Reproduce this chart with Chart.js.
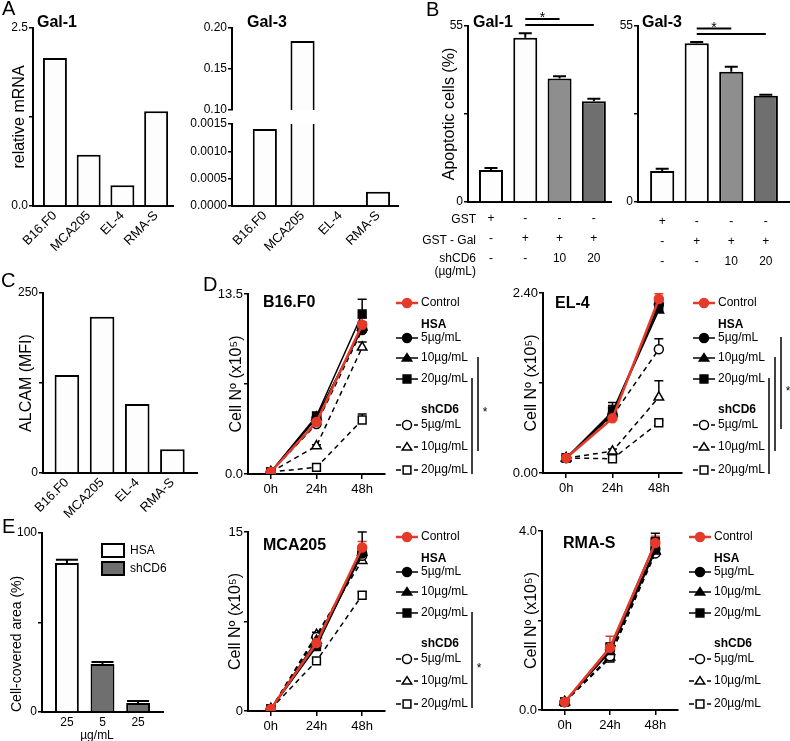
<!DOCTYPE html>
<html>
<head>
<meta charset="utf-8">
<script src="https://cdn.jsdelivr.net/npm/chart.js@4/dist/chart.umd.min.js"></script>
<style>
  body { margin: 0; background: #fff; }
  #fig { position: relative; width: 790px; height: 741px; overflow: hidden;
         font-family: 'Liberation Sans', Arial, sans-serif; color: #000; }
  #fig canvas { position: absolute; }
  .t { position: absolute; white-space: nowrap; line-height: 1; }
</style>
</head>
<body>
<div id="fig"></div>
<script>
// ---------- data ----------
// A: galectin mRNA
const CELL_LINES = ['B16.F0', 'MCA205', 'EL-4', 'RMA-S'];
const GAL1_MRNA = [2.08, 0.72, 0.29, 1.33];
const GAL3_MRNA = [0.00141, 0.184, 0.00001, 0.00026];
const GAL1_TICKS = [0, 1.25, 2.5];
const GAL3_BREAK = 0.10;
const GAL3_TICKS_HIGH = [0.10, 0.15, 0.20];
const GAL3_TICKS_LOW = [0, 0.0005, 0.0010, 0.0015];

// B: apoptosis
const GST = ['+', '-', '-', '-'];
const GST_GAL = ['-', '+', '+', '+'];
const SHCD6_DOSE = ['-', '-', '10', '20'];
const APOP_GAL1 = [10.0, 51.3, 38.6, 31.5];
const APOP_GAL1_ERR = [0.6, 1.4, 0.7, 0.8];
const APOP_GAL3 = [9.7, 49.6, 40.7, 33.2];
const APOP_GAL3_ERR = [0.7, 0.4, 1.6, 0.3];
const APOP_TICKS = [0, 27.5, 55];
const GAL1_SIG = [[1, 2, 57.2, '*'], [1, 3, 55.3, '']];
const GAL3_SIG = [[1, 2, 54.2, '*'], [1, 3, 52.5, '']];

// C: ALCAM
const ALCAM_MFI = [136, 217, 96, 33];
const ALCAM_TICKS = [0, 125, 250];

// D: proliferation (rows follow SERIES)
const TIMES = ['0h', '24h', '48h'];
const SERIES = ['Control', '5µg/mL', '10µg/mL', '20µg/mL', '5µg/mL', '10µg/mL', '20µg/mL'];
const SERIES_GROUP = ['Control', 'HSA', 'HSA', 'HSA', 'shCD6', 'shCD6', 'shCD6'];

const B16_CELLS = [[0.15, 3.9, 11.2], [0.15, 4.2, 10.9], [0.15, 4.25, 11.0], [0.15, 4.35, 12.0],
                   [0.15, 3.75, 10.8], [0.15, 2.1, 9.5], [0.15, 0.5, 4.05]];
const B16_ERR = [[0, 0.15, 0.5], [0, 0.1, 0.4], [0, 0.1, 0.4], [0, 0.15, 1.1],
                 [0, 0.1, 0.4], [0, 0.1, 0.4], [0, 0.1, 0.45]];
const B16_TICKS = [0, 6.75, 13.5];

const EL4_CELLS = [[0.2, 0.73, 2.32], [0.2, 0.78, 2.25], [0.2, 0.80, 2.17], [0.2, 0.82, 2.21],
                   [0.2, 0.76, 1.65], [0.2, 0.29, 1.01], [0.2, 0.19, 0.67]];
const EL4_ERR = [[0, 0.13, 0.07], [0, 0.1, 0.05], [0, 0.1, 0.05], [0, 0.12, 0.05],
                 [0, 0.05, 0.14], [0, 0.03, 0.22], [0, 0.02, 0.03]];
const EL4_TICKS = [0, 1.2, 2.4];

const MCA_CELLS = [[0.17, 5.7, 13.7], [0.17, 5.5, 13.2], [0.17, 5.9, 13.3], [0.17, 5.4, 13.4],
                   [0.17, 6.2, 13.0], [0.17, 6.4, 12.6], [0.17, 4.2, 9.7]];
const MCA_ERR = [[0, 0.2, 0.5], [0, 0.2, 0.5], [0, 0.2, 0.5], [0, 0.2, 1.6],
                 [0, 0.2, 0.4], [0, 0.2, 0.4], [0, 0.15, 0.3]];
const MCA_TICKS = [0, 7.5, 15];

const RMA_CELLS = [[0.18, 1.39, 3.73], [0.18, 1.35, 3.6], [0.18, 1.3, 3.55], [0.18, 1.4, 3.75],
                   [0.18, 1.2, 3.5], [0.18, 1.18, 3.55], [0.18, 1.16, 3.75]];
const RMA_ERR = [[0, 0.26, 0.15], [0, 0.1, 0.1], [0, 0.1, 0.1], [0, 0.1, 0.2],
                 [0, 0.05, 0.1], [0, 0.05, 0.1], [0, 0.05, 0.1]];
const RMA_TICKS = [0, 2, 4];

// significance brackets in the legend: [from row, to row]
const B16_SIG = [[3, 6], [2, 5]];
const EL4_SIG = [[3, 6], [2, 5], [1, 4]];
const MCA_SIG = [[3, 6]];

// E: cell-covered area
const AREA_DOSE = ['25', '5', '25'];
const AREA_GROUP = ['HSA', 'shCD6', 'shCD6'];
const AREA_VALUES = [83.2, 26.8, 5.0];
const AREA_ERR = [1.8, 1.2, 1.1];
const AREA_TICKS = [0, 50, 100];

// ---------- styles ----------
const FONT = "'Liberation Sans', Arial, sans-serif";
const RED = '#e53a2a';
const WHITE_BAR = '#fdfdfd';
const GROUP_FILL = { HSA: WHITE_BAR, shCD6: '#6f6f6f' };
const APOP_FILL = [WHITE_BAR, WHITE_BAR, '#8e8e8e', '#6f6f6f'];
const SERIES_STYLE = [
  { color: RED, fill: RED, shape: 'circle', r: 4.5, dash: [], width: 2.5 },
  { color: '#000', fill: '#000', shape: 'circle', r: 4.5, dash: [], width: 1.5 },
  { color: '#000', fill: '#000', shape: 'triangle', r: 5.5, dash: [], width: 1.5 },
  { color: '#000', fill: '#000', shape: 'rect', r: 5.5, dash: [], width: 1.5 },
  { color: '#000', fill: '#fff', shape: 'circle', r: 4.5, dash: [5, 4], width: 1.5 },
  { color: '#000', fill: '#fff', shape: 'triangle', r: 5.5, dash: [5, 4], width: 1.5 },
  { color: '#000', fill: '#fff', shape: 'rect', r: 5.5, dash: [5, 4], width: 1.5 }
];
const LEGEND_ROW_Y = [0, 35, 55, 76, 122, 144, 167];
const LEGEND_HEADERS = [['HSA', 22], ['shCD6', 107]];

Chart.defaults.font.family = FONT;
Chart.defaults.color = '#000';

const fig = document.getElementById('fig');

// ---------- helpers ----------
function mount(g) {
  const c = document.createElement('canvas');
  const left = g.L - g.yw, top = g.T - g.pt;
  const w = g.R - g.L + g.yw + g.pr, h = g.B - g.T + g.pt + g.xh;
  c.width = w; c.height = h;
  c.style.left = left + 'px'; c.style.top = top + 'px';
  c.style.width = w + 'px'; c.style.height = h + 'px';
  fig.appendChild(c);
  return c.getContext('2d');
}

function text(str, x, y, size, weight, align) {
  const d = document.createElement('div');
  d.className = 't';
  d.textContent = str;
  d.style.fontSize = size + 'px';
  if (weight) d.style.fontWeight = weight;
  d.style.top = (y - 0.487 * size) + 'px';
  if (align === 'right') d.style.right = (790 - x) + 'px';
  else d.style.left = x + 'px';
  if (align === 'center') d.style.transform = 'translateX(-50%)';
  fig.appendChild(d);
}

function zeroPad(s) { s.paddingLeft = s.paddingRight = s.paddingTop = s.paddingBottom = 0; }

function endsOnly(ticks, dec) {
  const lo = ticks[0], hi = ticks[ticks.length - 1];
  return v => (v === lo || v === hi) ? v.toFixed(dec) : '';
}

function yAxis(g, ticks, fmt, title, size) {
  const t = { display: false };
  if (title) {
    const fs = title.size || 16;
    t.display = true; t.text = title.text; t.color = '#000';
    t.align = title.align || 'center';
    t.font = { family: FONT, size: fs, lineHeight: 1.2 };
    t.padding = { top: g.tx - (g.L - g.yw) - fs * 0.6, bottom: 0 };
  }
  return {
    type: 'linear', min: ticks[0], max: ticks[ticks.length - 1],
    afterBuildTicks: s => { s.ticks = ticks.map(v => ({ value: v })); },
    afterFit: s => { s.width = g.yw; zeroPad(s); },
    border: { color: '#000', width: 2 },
    grid: { display: true, drawOnChartArea: false, drawTicks: true, tickLength: 4, color: '#000', lineWidth: 1.5 },
    ticks: { color: '#000', font: { family: FONT, size: size || 12 }, padding: 1, callback: fmt },
    title: t
  };
}

// linear index axis so the gap between the y axis and the first bar can be kept
function barXAxis(g, labels, gL, gR, tickOpts, hidden) {
  return {
    type: 'linear', offset: false,
    min: -0.5 - gL, max: labels.length - 0.5 + gR,
    afterBuildTicks: s => { s.ticks = labels.map((l, i) => ({ value: i })); },
    afterFit: s => { s.height = g.xh; zeroPad(s); },
    border: { display: !hidden, color: '#000', width: 2 },
    grid: { display: false, drawTicks: false },
    ticks: Object.assign({
      display: !hidden, autoSkip: false, color: '#000',
      font: { family: FONT, size: 12 }, padding: 2,
      callback: v => labels[Math.round(v)]
    }, tickOpts)
  };
}

function lineXAxis(g) {
  return {
    type: 'category', labels: TIMES, offset: true,
    afterFit: s => { s.height = g.xh; zeroPad(s); },
    border: { color: '#000', width: 2 },
    grid: { display: true, drawOnChartArea: false, drawTicks: true, tickLength: 5, color: '#000', lineWidth: 1.5 },
    ticks: { color: '#000', font: { family: FONT, size: 13 }, padding: 3, maxRotation: 0 }
  };
}

function options(g, x, y, plugins) {
  return {
    responsive: false, animation: false, devicePixelRatio: 1,
    layout: { padding: { left: 0, top: g.pt, right: g.pr, bottom: 0 } },
    plugins: Object.assign({ legend: { display: false }, tooltip: { enabled: false } }, plugins || {}),
    scales: { x, y }
  };
}

function marker(ctx, shape, r, x, y) {
  ctx.beginPath();
  if (shape === 'rect') {
    const s = r * Math.SQRT1_2;
    ctx.rect(x - s, y - s, 2 * s, 2 * s);
  } else if (shape === 'triangle') {
    for (let k = 0; k < 3; k++) {
      const a = k * 2 * Math.PI / 3;
      const px = x + Math.sin(a) * r, py = y - Math.cos(a) * r * 0.9 + r * 0.1;
      if (k === 0) ctx.moveTo(px, py); else ctx.lineTo(px, py);
    }
    ctx.closePath();
  } else {
    ctx.arc(x, y, r, 0, Math.PI * 2);
  }
  ctx.fill();
  ctx.stroke();
}

// ---------- plugins ----------
const errorBars = {
  id: 'errorBars',
  beforeDatasetsDraw(chart) {
    const { ctx } = chart;
    const ys = chart.scales.y;
    chart.data.datasets.forEach((ds, i) => {
      if (!ds.errors) return;
      const meta = chart.getDatasetMeta(i);
      ctx.save();
      ctx.strokeStyle = ds.errorColor || '#000';
      ctx.lineWidth = ds.errorWidth || 1.5;
      meta.data.forEach((el, j) => {
        const e = ds.errors[j];
        if (!e) return;
        const raw = ds.data[j];
        const v = typeof raw === 'object' ? raw.y : raw;
        const y1 = ys.getPixelForValue(v + e), hw = ds.capWidth / 2;
        ctx.beginPath();
        ctx.moveTo(el.x, el.y); ctx.lineTo(el.x, y1);
        ctx.moveTo(el.x - hw, y1); ctx.lineTo(el.x + hw, y1);
        ctx.stroke();
      });
      ctx.restore();
    });
  }
};

const sigBars = {
  id: 'sigBars',
  afterDraw(chart, args, o) {
    if (!o.pairs) return;
    const { ctx } = chart, x = chart.scales.x, y = chart.scales.y;
    ctx.save();
    ctx.strokeStyle = '#000'; ctx.fillStyle = '#000'; ctx.lineWidth = 2;
    ctx.font = `14px ${FONT}`; ctx.textAlign = 'center'; ctx.textBaseline = 'alphabetic';
    o.pairs.forEach(p => {
      const x0 = x.getPixelForValue(p[0]), x1 = x.getPixelForValue(p[1]), yy = y.getPixelForValue(p[2]);
      ctx.beginPath(); ctx.moveTo(x0, yy); ctx.lineTo(x1, yy); ctx.stroke();
      if (p[3]) ctx.fillText(p[3], (x0 + x1) / 2, yy + 3);
    });
    ctx.restore();
  }
};

const cellLegend = {
  id: 'cellLegend',
  afterDraw(chart, args, o) {
    if (!o.show) return;
    const { ctx, chartArea: a } = chart;
    const x0 = a.right + 11, tx = a.right + 36;
    const rowY = k => a.top + o.top + LEGEND_ROW_Y[k];
    ctx.save();
    ctx.font = `12px ${FONT}`; ctx.textBaseline = 'middle'; ctx.textAlign = 'left';
    chart.data.datasets.forEach((ds, k) => {
      const y = rowY(k);
      ctx.strokeStyle = ds.borderColor; ctx.lineWidth = ds.borderWidth;
      ctx.setLineDash(ds.borderDash);
      ctx.beginPath(); ctx.moveTo(x0, y); ctx.lineTo(x0 + 22, y); ctx.stroke();
      ctx.setLineDash([]);
      ctx.fillStyle = ds.pointBackgroundColor; ctx.strokeStyle = ds.pointBorderColor; ctx.lineWidth = 1.5;
      marker(ctx, ds.pointStyle, ds.pointRadius, x0 + 11, y);
      ctx.fillStyle = '#000';
      ctx.fillText(ds.label, tx, y);
    });
    ctx.font = `bold 12px ${FONT}`;
    LEGEND_HEADERS.forEach(h => ctx.fillText(h[0], tx, a.top + o.top + h[1]));
    ctx.strokeStyle = '#000'; ctx.lineWidth = 1.5;
    let last = null;
    (o.sig || []).forEach((p, k) => {
      const x = a.right + 87 + 6 * k;
      const y0 = rowY(p[0]) - 1, y1 = rowY(p[1]) + 4;
      ctx.beginPath(); ctx.moveTo(x, y0); ctx.lineTo(x, y1); ctx.stroke();
      last = [x, (y0 + y1) / 2];
    });
    if (last) {
      ctx.font = `12px ${FONT}`; ctx.textBaseline = 'alphabetic'; ctx.textAlign = 'center';
      ctx.fillText('*', last[0] + 7, last[1] + 12);
    }
    ctx.restore();
  }
};

const areaLegend = {
  id: 'areaLegend',
  afterDraw(chart, args, o) {
    if (!o.items) return;
    const { ctx, chartArea: a } = chart;
    ctx.save();
    ctx.font = `12px ${FONT}`; ctx.textBaseline = 'middle'; ctx.textAlign = 'left';
    o.items.forEach((name, k) => {
      const y = a.top + 11 + 18 * k;
      ctx.fillStyle = GROUP_FILL[name]; ctx.strokeStyle = '#000'; ctx.lineWidth = 2;
      ctx.fillRect(a.left + 60, y, 22, 13);
      ctx.strokeRect(a.left + 60, y, 22, 13);
      ctx.fillStyle = '#000';
      ctx.fillText(name, a.left + 88, y + 7);
    });
    ctx.restore();
  }
};

const PLUGINS = [errorBars, sigBars, cellLegend, areaLegend];

function barSet(values, fill, pct, extra) {
  return Object.assign({
    data: values.map((v, i) => ({ x: i, y: v })),
    backgroundColor: fill, borderColor: '#000', borderWidth: 2,
    barPercentage: pct, categoryPercentage: 1
  }, extra || {});
}

// ---------- A: Gal-1 ----------
{
  const g = { L: 33, T: 28, R: 173, B: 206, yw: 33, xh: 50, pt: 10, pr: 4, tx: 20 };
  new Chart(mount(g), {
    type: 'bar',
    data: { datasets: [barSet(GAL1_MRNA, WHITE_BAR, 0.71)] },
    options: options(g,
      barXAxis(g, CELL_LINES, 0.15, 0, { minRotation: 45, maxRotation: 45, font: { family: FONT, size: 13 } }),
      yAxis(g, GAL1_TICKS, endsOnly(GAL1_TICKS, 1), { text: 'relative mRNA' })),
    plugins: PLUGINS
  });
}
// ---------- A: Gal-3 (broken axis) ----------
{
  const g = { L: 232, T: 28, R: 398, B: 110, yw: 50, xh: 8, pt: 8, pr: 2 };
  const high = GAL3_MRNA.map((v, i) => ({ x: i, y: v })).filter(p => p.y > GAL3_BREAK);
  new Chart(mount(g), {
    type: 'bar',
    data: { datasets: [Object.assign(barSet([], WHITE_BAR, 0.64), { data: high })] },
    options: options(g,
      barXAxis(g, CELL_LINES, 0.37, 0.03, {}, true),
      yAxis(g, GAL3_TICKS_HIGH, v => v.toFixed(2))),
    plugins: PLUGINS
  });
}
{
  const g = { L: 232, T: 124, R: 398, B: 206, yw: 50, xh: 50, pt: 8, pr: 2 };
  new Chart(mount(g), {
    type: 'bar',
    data: { datasets: [barSet(GAL3_MRNA, WHITE_BAR, 0.64, { clip: 0 })] },
    options: options(g,
      barXAxis(g, CELL_LINES, 0.37, 0.03, { minRotation: 45, maxRotation: 45, font: { family: FONT, size: 13 } }),
      yAxis(g, GAL3_TICKS_LOW, v => v.toFixed(4))),
    plugins: PLUGINS
  });
}

// ---------- B: apoptosis ----------
const APOP_LABELS = GST.map((v, i) => [v, GST_GAL[i], SHCD6_DOSE[i]]);
const apopTicks = { font: { family: FONT, size: 12, lineHeight: 20 / 12 }, padding: 7, maxRotation: 0 };
{
  const g = { L: 468, T: 26, R: 611, B: 202, yw: 46, xh: 75, pt: 22, pr: 2, tx: 450 };
  new Chart(mount(g), {
    type: 'bar',
    data: { datasets: [barSet(APOP_GAL1, APOP_FILL, 0.7, { errors: APOP_GAL1_ERR, capWidth: 13, errorWidth: 2 })] },
    options: options(g,
      barXAxis(g, APOP_LABELS, 0.17, 0, apopTicks),
      yAxis(g, APOP_TICKS, endsOnly(APOP_TICKS, 0), { text: 'Apoptotic cells (%)' }),
      { sigBars: { pairs: GAL1_SIG } }),
    plugins: PLUGINS
  });
}
{
  const g = { L: 638, T: 26, R: 790, B: 202, yw: 30, xh: 75, pt: 22, pr: 0 };
  new Chart(mount(g), {
    type: 'bar',
    data: { datasets: [barSet(APOP_GAL3, APOP_FILL, 0.7, { errors: APOP_GAL3_ERR, capWidth: 13, errorWidth: 2 })] },
    options: options(g,
      barXAxis(g, APOP_LABELS, 0.2, 0.2, Object.assign({}, apopTicks, { padding: 10 })),
      yAxis(g, APOP_TICKS, endsOnly(APOP_TICKS, 0)),
      { sigBars: { pairs: GAL3_SIG } }),
    plugins: PLUGINS
  });
}

// ---------- C: ALCAM ----------
{
  const g = { L: 43, T: 293, R: 197, B: 473, yw: 43, xh: 50, pt: 10, pr: 2, tx: 27 };
  new Chart(mount(g), {
    type: 'bar',
    data: { datasets: [barSet(ALCAM_MFI, WHITE_BAR, 0.7)] },
    options: options(g,
      barXAxis(g, CELL_LINES, 0.18, 0.2, { minRotation: 45, maxRotation: 45, font: { family: FONT, size: 13 } }),
      yAxis(g, ALCAM_TICKS, endsOnly(ALCAM_TICKS, 0), { text: 'ALCAM (MFI)' })),
    plugins: PLUGINS
  });
}

// ---------- D: proliferation ----------
function lineSets(means, errs) {
  return SERIES.map((name, k) => {
    const st = SERIES_STYLE[k];
    return {
      label: name, group: SERIES_GROUP[k], data: means[k], errors: errs[k],
      errorColor: st.color, errorWidth: 1.5, capWidth: 9,
      borderColor: st.color, borderWidth: st.width, borderDash: st.dash,
      pointStyle: st.shape, pointRadius: st.r, pointBorderWidth: 1.5,
      pointBackgroundColor: st.fill, pointBorderColor: st.color, tension: 0
    };
  });
}
function cellChart(g, means, errs, ticks, dec, sig) {
  new Chart(mount(g), {
    type: 'line',
    data: { labels: TIMES, datasets: lineSets(means, errs) },
    options: options(g, lineXAxis(g),
      yAxis(g, ticks, endsOnly(ticks, dec), { text: 'Cell Nº (x10⁵)' }, 13),
      { cellLegend: { show: true, top: g.lt, sig } }),
    plugins: PLUGINS
  });
}
cellChart({ L: 248, T: 294, R: 385, B: 474, yw: 48, xh: 30, pt: 12, pr: 110, tx: 237, lt: 9 }, B16_CELLS, B16_ERR, B16_TICKS, 1, B16_SIG);
cellChart({ L: 543, T: 293, R: 682, B: 473, yw: 48, xh: 30, pt: 12, pr: 108, tx: 532, lt: 10 }, EL4_CELLS, EL4_ERR, EL4_TICKS, 2, EL4_SIG);
cellChart({ L: 248, T: 532, R: 385, B: 711, yw: 48, xh: 30, pt: 12, pr: 110, tx: 236, lt: 5 }, MCA_CELLS, MCA_ERR, MCA_TICKS, 0, MCA_SIG);
cellChart({ L: 542, T: 531, R: 678, B: 710, yw: 48, xh: 30, pt: 12, pr: 110, tx: 532, lt: 6 }, RMA_CELLS, RMA_ERR, RMA_TICKS, 1, []);

// ---------- E: cell-covered area ----------
{
  const g = { L: 42, T: 533, R: 163, B: 712, yw: 42, xh: 28, pt: 10, pr: 4, tx: 17 };
  new Chart(mount(g), {
    type: 'bar',
    data: { datasets: [barSet(AREA_VALUES, AREA_GROUP.map(k => GROUP_FILL[k]), 0.67,
      { errors: AREA_ERR, capWidth: 22, errorWidth: 2 })] },
    options: options(g,
      barXAxis(g, AREA_DOSE, 0.2, 0.2, { padding: 3 }),
      yAxis(g, AREA_TICKS, endsOnly(AREA_TICKS, 0), { text: 'Cell-covered area (%)', size: 14, align: 'start' }),
      { areaLegend: { items: ['HSA', 'shCD6'] } }),
    plugins: PLUGINS
  });
}

// ---------- text outside the plots ----------
text('A', 2, 8, 20); text('B', 426, 9, 20); text('C', 1, 280, 20); text('D', 203, 284, 20); text('E', 2, 526, 20);
text('Gal-1', 37, 22, 16, 'bold'); text('Gal-3', 247, 22, 16, 'bold');
text('Gal-1', 473, 21.5, 16, 'bold'); text('Gal-3', 642, 21.5, 16, 'bold');
text('B16.F0', 263, 302, 16, 'bold'); text('EL-4', 555, 303, 16, 'bold');
text('MCA205', 263, 545, 16, 'bold'); text('RMA-S', 563, 543, 16, 'bold');
text('GST', 476, 219, 12, null, 'right'); text('GST - Gal', 476, 240, 12, null, 'right');
text('shCD6', 476, 258, 12, null, 'right'); text('(µg/mL)', 476, 271, 12, null, 'right');
text('µg/mL', 97, 735, 12, null, 'center');
</script>
</body>
</html>
